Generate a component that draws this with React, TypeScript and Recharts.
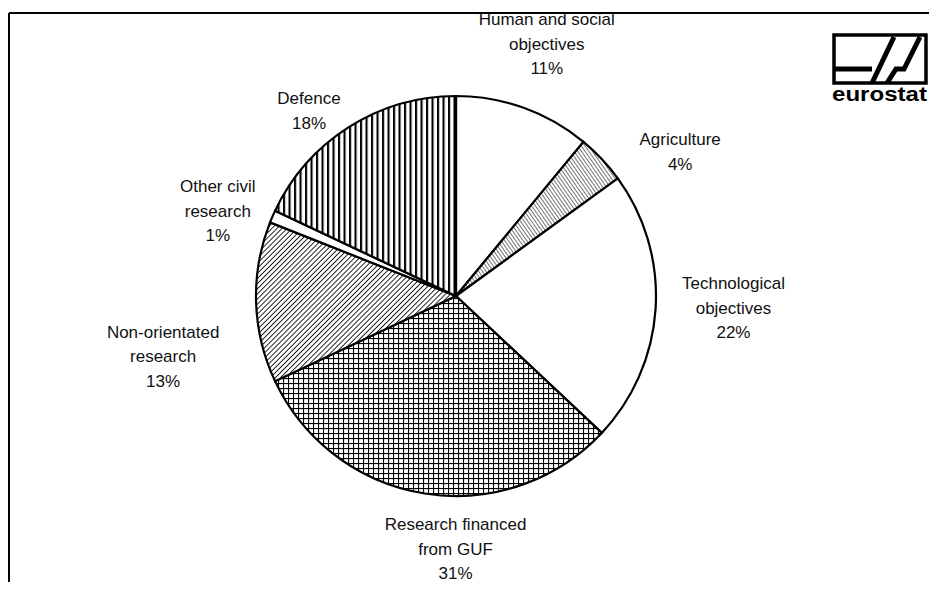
import { PieChart, Pie, Cell } from 'recharts'

// Government R&D appropriations by objective (shares, %)
const CATEGORIES = [
  'Human and social\nobjectives',
  'Agriculture',
  'Technological\nobjectives',
  'Research financed\nfrom GUF',
  'Non-orientated\nresearch',
  'Other civil\nresearch',
  'Defence',
]
const SHARES = [11, 4, 22, 31, 13, 1, 18]

const FILLS = ['#ffffff', 'url(#hatchAgri)', '#ffffff', 'url(#hatchGrid)', 'url(#hatchDiag)', '#ffffff', 'url(#hatchVert)']

// label placement tweaks (layout only), in px
const LABEL_RADIUS = 265
const LABEL_NUDGE = [
  [1, -3],
  [31, 37],
  [13, -5],
  [41, -9],
  [-28, 52],
  [5, 20],
  [-5, 38],
]

const W = 929
const H = 582
const FONT = '"Liberation Sans", Arial, Helvetica, sans-serif'

const data = CATEGORIES.map((name, i) => ({ name, value: SHARES[i] }))

const renderLabel = (props: any) => {
  const { cx, cy, midAngle, index } = props
  const a = (-midAngle * Math.PI) / 180
  const x = cx + LABEL_RADIUS * Math.cos(a) + LABEL_NUDGE[index][0]
  const y = cy + LABEL_RADIUS * Math.sin(a) + LABEL_NUDGE[index][1]
  const lines = [...CATEGORIES[index].split('\n'), `${SHARES[index]}%`]
  const lh = 24.5
  const y0 = y - ((lines.length - 1) * lh) / 2 + 6
  return (
    <text key={`lbl-${index}`} x={x} y={y0} textAnchor="middle" fontFamily={FONT} fontSize={17} fill="#111">
      {lines.map((l, i) => (
        <tspan key={i} x={x} y={y0 + i * lh}>
          {l}
        </tspan>
      ))}
    </text>
  )
}

export default function App() {
  return (
    <div style={{ position: 'relative', width: W, height: H, background: '#fff', marginBottom: -8 }}>
      <style>{'html, body { overflow: hidden; }'}</style>
      {/* frame + logo, drawn under the pie */}
      <svg width={W} height={H} style={{ position: 'absolute', left: 0, top: 0, pointerEvents: 'none' }}>
        <defs>
          <pattern id="hatchAgri" width="3" height="3" patternUnits="userSpaceOnUse" patternTransform="rotate(-35)">
            <rect width="3" height="3" fill="#fff" />
            <line x1="0" y1="0" x2="0" y2="3" stroke="#000" strokeWidth="1.1" />
          </pattern>
          <pattern id="hatchDiag" width="3.6" height="3.6" patternUnits="userSpaceOnUse" patternTransform="rotate(45)">
            <rect width="3.6" height="3.6" fill="#fff" />
            <line x1="0" y1="0" x2="0" y2="3.6" stroke="#000" strokeWidth="1.7" />
          </pattern>
          <pattern id="hatchGrid" width="5" height="5" patternUnits="userSpaceOnUse">
            <rect width="5" height="5" fill="#fff" />
            <line x1="0" y1="0" x2="0" y2="5" stroke="#000" strokeWidth="2.2" />
            <line x1="0" y1="0" x2="5" y2="0" stroke="#000" strokeWidth="2.2" />
          </pattern>
          <pattern id="hatchVert" width="5.5" height="6" patternUnits="userSpaceOnUse">
            <rect width="5.5" height="6" fill="#fff" />
            <line x1="1" y1="0" x2="1" y2="6" stroke="#000" strokeWidth="2.2" />
          </pattern>
        </defs>
        <line x1={1} y1={5} x2={W} y2={5} stroke="#000" strokeWidth={2} />
        <line x1={1} y1={5} x2={1} y2={H} stroke="#000" strokeWidth={2} />
        {/* eurostat logo */}
        <g stroke="#000" fill="none">
          <rect x={826} y={27} width={92} height={48} strokeWidth={3.5} />
          <line x1={826} y1={61} x2={864} y2={61} strokeWidth={5} />
          <line x1={864} y1={75} x2={886} y2={29} strokeWidth={5} />
          <polyline points="879,75 888,61 896,61 912,29" strokeWidth={5} />
        </g>
        <text
          x={824}
          y={93}
          fontFamily={FONT}
          fontWeight="bold"
          fontSize={20}
          textLength={95}
          lengthAdjust="spacingAndGlyphs"
          fill="#000"
        >
          eurostat
        </text>
      </svg>

      <div style={{ position: 'absolute', left: 0, top: 0 }}>
        <PieChart width={W} height={H} margin={{ top: 0, right: 0, bottom: 0, left: 0 }}>
          <Pie
            data={data}
            dataKey="value"
            cx={448}
            cy={288}
            outerRadius={200}
            startAngle={90}
            endAngle={-270}
            stroke="#000"
            strokeWidth={2.2}
            labelLine={false}
            label={renderLabel}
            isAnimationActive={false}
          >
            {data.map((entry, index) => (
              <Cell key={`cell-${index}`} fill={FILLS[index]} />
            ))}
          </Pie>
        </PieChart>
      </div>
    </div>
  )
}
